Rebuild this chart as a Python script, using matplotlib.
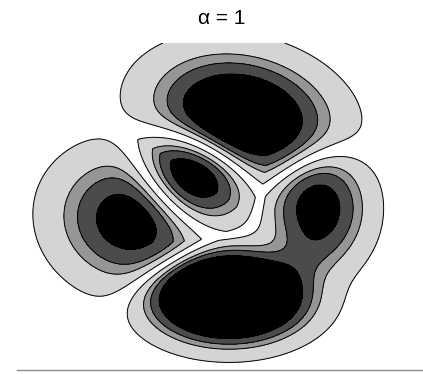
import numpy as np
import matplotlib.pyplot as plt

# Lobes of the density field (plot units, x to the right, y downward)
lobe_x = [242, 192, 130, 229, 318, 302]
lobe_y = [116, 176, 220, 297, 207, 260]
lobe_sx = [47, 32, 40, 38, 27, 26]
lobe_sy = [31, 28, 35, 22, 32, 18]
lobe_deg = [12, 22, 15, 0, 0, -35]
lobe_amp = [1.0, 0.7, 0.6, 2.5, 0.58, 0.12]
lobe_group = [0, 1, 2, 3, 3, 3]

levels = [0.03, 0.15, 0.25, 0.42, 50.0]
fill_colors = ['#d4d4d4', '#969696', '#4b4b4b', '#000000']
node_m, node_p = 1.3, 2.0
alpha_value = 1

# grid
x = np.linspace(17, 423, 812)
y = np.linspace(43, 370, 654)
X, Y = np.meshgrid(x, y)

ngroup = max(lobe_group) + 1
G = np.zeros((ngroup,) + X.shape)
for cx, cy, sx, sy, deg, amp, grp in zip(lobe_x, lobe_y, lobe_sx, lobe_sy,
                                          lobe_deg, lobe_amp, lobe_group):
    th = np.deg2rad(deg)
    dx, dy = X - cx, Y - cy
    u = dx * np.cos(th) + dy * np.sin(th)
    v = -dx * np.sin(th) + dy * np.cos(th)
    G[grp] += amp * np.exp(-0.5 * ((u / sx)**2 + (v / sy)**2))

# nodes between neighbouring groups
Gs = np.sort(G, axis=0)
M1, M2 = Gs[-1], Gs[-2]
F = M1 * (1.0 - (M2 / M1)**node_m)**node_p

fig = plt.figure(figsize=(4.23, 3.74), dpi=100)
ax = fig.add_axes([17/423, (374-370)/374, 406/423, 327/374])
ax.contourf(X, Y, F, levels=levels, colors=fill_colors)
ax.contour(X, Y, F, levels=levels[:-1], colors='k', linewidths=0.7)
ax.set_xlim(17, 423)
ax.set_ylim(370, 43)
ax.set_xticks([])
ax.set_yticks([])
for side in ['top', 'left', 'right']:
    ax.spines[side].set_visible(False)
ax.spines['bottom'].set_color('#8c8c8c')
ax.spines['bottom'].set_linewidth(1.0)

fig.text(222/423, 1 - 18/374, 'α = %d' % alpha_value, ha='center', va='center',
         fontsize=15, family=['Liberation Sans', 'DejaVu Sans'])

fig.savefig('out.png', dpi=100)
